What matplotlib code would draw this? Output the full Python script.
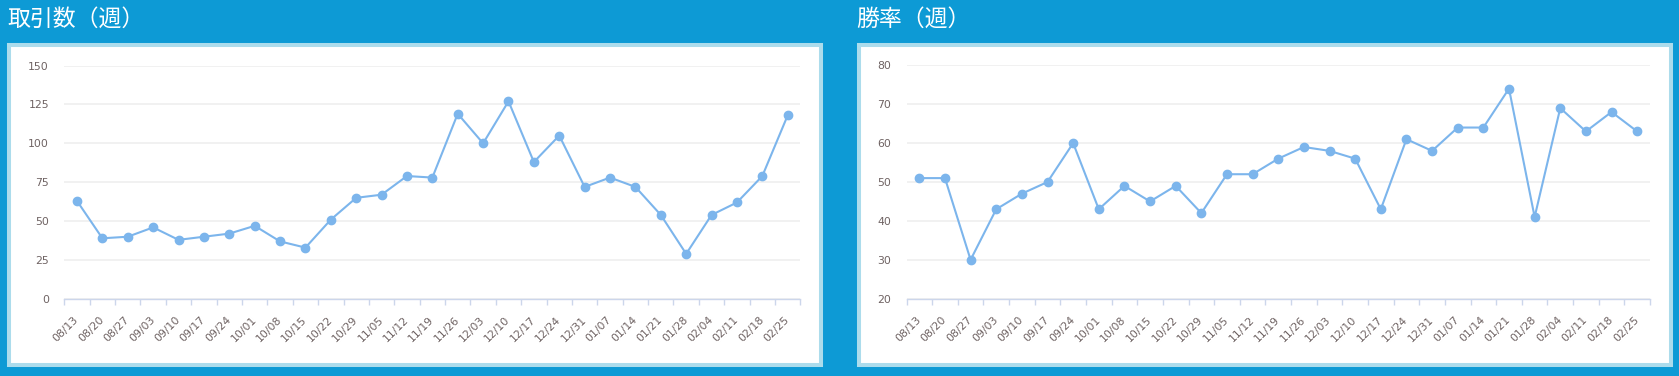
import matplotlib.pyplot as plt
from matplotlib.patches import Rectangle
import numpy as np

plt.rcParams['font.family'] = ['DejaVu Sans', 'Noto Sans CJK JP']

# 週ラベル
weeks = ['08/13', '08/20', '08/27', '09/03', '09/10', '09/17', '09/24', '10/01',
         '10/08', '10/15', '10/22', '10/29', '11/05', '11/12', '11/19', '11/26',
         '12/03', '12/10', '12/17', '12/24', '12/31', '01/07', '01/14', '01/21',
         '01/28', '02/04', '02/11', '02/18', '02/25']

trades = [63, 39, 40, 46, 38, 40, 42, 47, 37, 33, 51, 65, 67, 79, 78, 119,
          100, 127, 88, 105, 72, 78, 72, 54, 29, 54, 62, 79, 118]

winrate = [51, 51, 30, 43, 47, 50, 60, 43, 49, 45, 49, 42, 52, 52, 56, 59,
           58, 56, 43, 61, 58, 64, 64, 74, 41, 69, 63, 68, 63]

titles = ['取引数（週）', '勝率（週）']
y_ticks = [[0, 25, 50, 75, 100, 125, 150], [20, 30, 40, 50, 60, 70, 80]]
y_lims = [(0, 150), (20, 80)]

W, H = 1679, 376
bg = '#0d9ad5'
border = '#acdcec'
line_col = '#7cb5ec'
axis_col = '#ccd6eb'
label_col = '#6e6262'

fig = plt.figure(figsize=(W / 100, H / 100), dpi=100, facecolor=bg)


def px(x0, y0, x1, y1):
    # ピクセル座標 -> figure座標 [left, bottom, width, height]
    return [x0 / W, 1 - y1 / H, (x1 - x0) / W, (y1 - y0) / H]


panels = [(9, 45, 821, 365), (859, 45, 1671, 365)]
axes_px = [(64.3, 65.5, 800.4, 299), (906.5, 65.3, 1650, 298.7)]
title_x = [7, 856]

for i, vals in enumerate([trades, winrate]):
    l, b, w, h = px(*panels[i])
    fig.add_artist(Rectangle((l, b), w, h, transform=fig.transFigure,
                             facecolor='white', edgecolor=border, linewidth=2.9, zorder=0))
    fig.text(title_x[i] / W, 1 - 19.5 / H, titles[i], color='white', fontsize=16.5,
             family=['Noto Sans CJK JP', 'DejaVu Sans'], va='center', ha='left')

    ax = fig.add_axes(px(*axes_px[i]))
    x = np.arange(len(weeks))
    ax.plot(x, vals, color=line_col, lw=1.5, marker='o', ms=6, zorder=3, clip_on=False)

    ax.set_xlim(-0.5, len(weeks) - 0.5)
    ax.set_ylim(*y_lims[i])
    ax.set_yticks(y_ticks[i])
    ax.set_xticks(x)
    ax.set_xticklabels(weeks, rotation=45, ha='right', va='center', rotation_mode='anchor')
    ax.set_xticks(np.arange(len(weeks) + 1) - 0.5, minor=True)

    ax.tick_params(axis='x', which='major', length=0, pad=14, labelsize=7.8, labelcolor=label_col)
    ax.tick_params(axis='x', which='minor', length=4, width=1, color=axis_col, direction='out')
    ax.tick_params(axis='y', length=0, pad=11, labelsize=7.8, labelcolor=label_col)

    ax.grid(axis='y', color='#eeeeee', lw=1.1)
    ax.set_axisbelow(True)
    for s in ['top', 'right', 'left']:
        ax.spines[s].set_visible(False)
    ax.spines['bottom'].set_color(axis_col)
    ax.spines['bottom'].set_linewidth(1)
    ax.set_facecolor('white')

fig.savefig('out.png', dpi=100, facecolor=bg)
